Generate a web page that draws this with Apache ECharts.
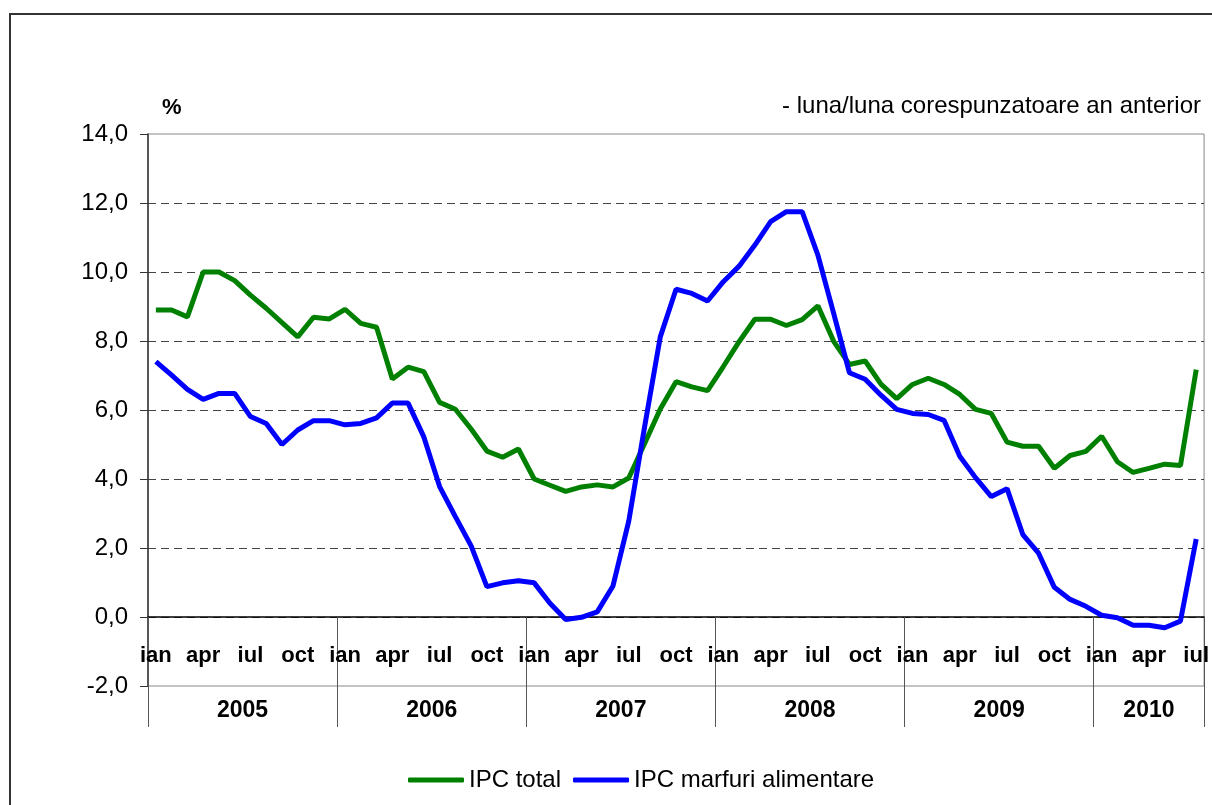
<!DOCTYPE html>
<html>
<head>
<meta charset="utf-8">
<title>IPC total / IPC marfuri alimentare</title>
<script src="https://cdn.jsdelivr.net/npm/echarts@6/dist/echarts.min.js"></script>
<style>
  html, body { margin: 0; padding: 0; background: #fff; }
  #chart { width: 1212px; height: 805px; }
</style>
</head>
<body>
<div id="chart"></div>
<script>
// ani si luni (2005 ian - 2010 iul)
const years = ['2005', '2006', '2007', '2008', '2009', '2010'];
const monthsPerYear = [12, 12, 12, 12, 12, 7];
const monthNames = ['ian', 'feb', 'mar', 'apr', 'mai', 'iun', 'iul', 'aug', 'sep', 'oct', 'noi', 'dec'];

// IPC total, % luna / luna corespunzatoare an anterior
const ipcTotal = [
  8.9, 8.9, 8.7, 10.0, 10.0, 9.75, 9.33, 8.95, 8.53, 8.12, 8.69, 8.64,
  8.92, 8.51, 8.40, 6.90, 7.24, 7.11, 6.22, 6.02, 5.45, 4.81, 4.63, 4.87,
  4.0, 3.82, 3.64, 3.77, 3.83, 3.77, 4.03, 5.02, 6.03, 6.82, 6.67, 6.56,
  7.26, 7.98, 8.63, 8.63, 8.45, 8.62, 9.02, 7.99, 7.32, 7.42, 6.75, 6.33,
  6.74, 6.92, 6.74, 6.45, 6.02, 5.90, 5.07, 4.95, 4.95, 4.31, 4.68, 4.80,
  5.24, 4.50, 4.19, 4.31, 4.43, 4.39, 7.17
];

// IPC marfuri alimentare
const ipcAlimentare = [
  7.40, 7.01, 6.60, 6.31, 6.48, 6.48, 5.81, 5.61, 5.0, 5.42, 5.69, 5.69,
  5.57, 5.61, 5.77, 6.20, 6.20, 5.22, 3.78, 2.91, 2.06, 0.88, 0.99, 1.05,
  0.99, 0.40, -0.07, -0.01, 0.15, 0.90, 2.78, 5.5, 8.12, 9.50, 9.38, 9.16,
  9.72, 10.17, 10.78, 11.46, 11.75, 11.75, 10.49, 8.80, 7.08, 6.89, 6.43, 6.02,
  5.90, 5.87, 5.70, 4.66, 4.04, 3.49, 3.72, 2.39, 1.85, 0.86, 0.51, 0.31,
  0.05, -0.02, -0.24, -0.24, -0.31, -0.12, 2.26
];

// axa y
const yMin = -2;
const yMax = 14;
const yStep = 2;

const fontFamily = "'Liberation Sans', Arial, sans-serif";

// categorii lunare
const categories = [];
years.forEach((y, i) => {
  for (let m = 0; m < monthsPerYear[i]; m++) {
    categories.push(monthNames[m] + ' ' + y);
  }
});

// limitele si mijlocul fiecarui an pe axa anilor
const yearBounds = [0];
const yearMids = [];
monthsPerYear.forEach((n, i) => {
  yearMids.push(yearBounds[i] + n / 2);
  yearBounds.push(yearBounds[i] + n);
});

// grila: axa lunilor sta pe linia 0
const gridTop = 134;
const gridBottom = 119;
const plotHeight = 805 - gridTop - gridBottom;
const zeroOffset = -Math.round(plotHeight * (0 - yMin) / (yMax - yMin));

const myChart = echarts.init(document.getElementById('chart'));
myChart.setOption({
  animation: false,
  textStyle: { fontFamily: fontFamily },
  title: [
    {
      text: '%',
      left: 157,
      top: 92,
      textStyle: { fontSize: 22, fontWeight: 'bold', color: '#000', fontFamily: fontFamily },
    },
    {
      text: '- luna/luna corespunzatoare an anterior',
      right: 6,
      top: 89,
      textStyle: { fontSize: 24, fontWeight: 'normal', color: '#000', fontFamily: fontFamily },
    },
  ],
  graphic: [
    {
      type: 'rect',
      z: -10,
      shape: { x: 10, y: 14, width: 1220, height: 830 },
      style: { fill: 'none', stroke: '#333', lineWidth: 2 },
    },
  ],
  legend: {
    left: 403,
    top: 763,
    icon: 'roundRect',
    itemWidth: 56,
    itemHeight: 5,
    itemGap: 12,
    textStyle: { fontSize: 24, color: '#000', fontFamily: fontFamily },
    data: ['IPC total', 'IPC marfuri alimentare'],
  },
  grid: {
    left: 148,
    right: 3,
    top: gridTop,
    bottom: gridBottom,
    show: true,
    borderColor: '#888',
    borderWidth: 1,
  },
  xAxis: [
    {
      type: 'category',
      data: categories,
      boundaryGap: true,
      position: 'bottom',
      offset: zeroOffset,
      axisLine: { onZero: false, lineStyle: { color: '#000', width: 1.5 } },
      axisTick: { show: false },
      axisLabel: {
        interval: 2,
        margin: 28,
        fontSize: 22,
        fontWeight: 'bold',
        color: '#000',
        fontFamily: fontFamily,
        formatter: (v) => v.split(' ')[0],
      },
      splitLine: { show: false },
    },
    {
      // axa anilor (doar decor: separatori si etichete de an)
      type: 'value',
      position: 'bottom',
      offset: zeroOffset,
      min: 0,
      max: categories.length,
      axisLine: { show: false, onZero: false },
      axisTick: {
        show: true,
        length: 110,
        customValues: yearBounds,
        lineStyle: { color: '#555', width: 1 },
      },
      axisLabel: {
        show: true,
        customValues: yearMids,
        margin: 82,
        fontSize: 23,
        fontWeight: 'bold',
        color: '#000',
        fontFamily: fontFamily,
        formatter: (v) => {
          const i = yearMids.findIndex((m) => Math.abs(m - v) < 0.01);
          return i >= 0 ? years[i] : '';
        },
      },
      splitLine: { show: false },
    },
  ],
  yAxis: {
    type: 'value',
    min: yMin,
    max: yMax,
    interval: yStep,
    axisLine: { show: true, lineStyle: { color: '#333', width: 1.5 } },
    axisTick: { show: true, length: 8, lineStyle: { color: '#333' } },
    axisLabel: {
      margin: 20,
      fontSize: 24,
      color: '#000',
      fontFamily: fontFamily,
      formatter: (v) => v.toFixed(1).replace('.', ','),
    },
    splitLine: {
      show: true,
      showMinLine: false,
      showMaxLine: false,
      lineStyle: { color: '#444', type: [8, 5], width: 1 },
    },
  },
  series: [
    {
      name: 'IPC total',
      type: 'line',
      data: ipcTotal,
      symbol: 'none',
      lineStyle: { color: '#008000', width: 5 },
      itemStyle: { color: '#008000' },
    },
    {
      name: 'IPC marfuri alimentare',
      type: 'line',
      data: ipcAlimentare,
      symbol: 'none',
      lineStyle: { color: '#0000ff', width: 5 },
      itemStyle: { color: '#0000ff' },
    },
  ],
});
</script>
</body>
</html>
